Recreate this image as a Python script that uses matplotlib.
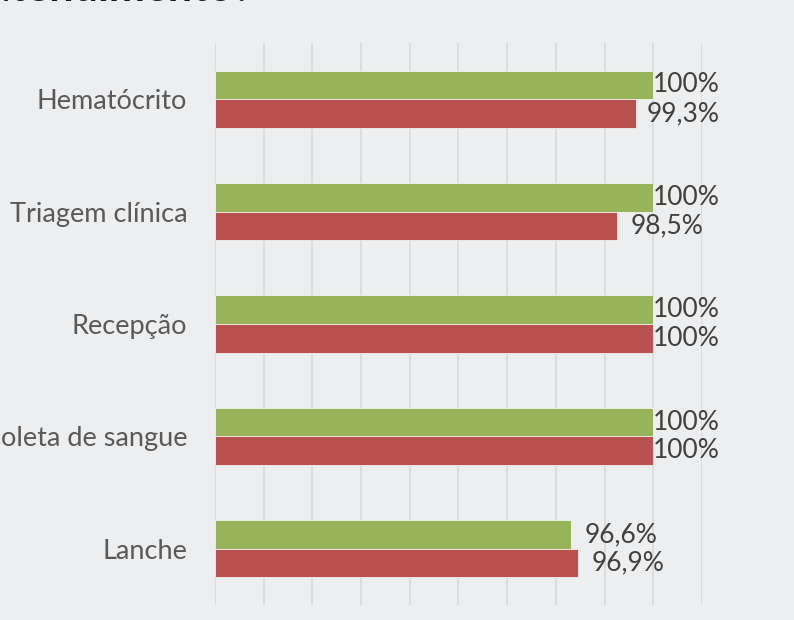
import numpy as np
import matplotlib.pyplot as plt

plt.rcParams['font.family'] = ['Lato', 'DejaVu Sans']

# Dados
categorias = ['Hematócrito', 'Triagem clínica', 'Recepção', 'Coleta de sangue', 'Lanche']
serie_verde = [100, 100, 100, 100, 96.6]
serie_vermelha = [99.3, 98.5, 100, 100, 96.9]
rotulos_verde = ['100%', '100%', '100%', '100%', '96,6%']
rotulos_vermelha = ['99,3%', '98,5%', '100%', '100%', '96,9%']

fundo = '#EDEEF0'
verde = '#98B45A'
vermelho = '#B9524F'

W, H = 794, 620
fig = plt.figure(figsize=(W / 100, H / 100), dpi=100, facecolor=fundo)
ax = fig.add_axes([215 / W, 1 - 605 / H, (702 - 215) / W, (605 - 43) / H])
ax.set_facecolor(fundo)

y = np.arange(len(categorias))
h = 0.255
x0 = 82

b1 = ax.barh(y - h / 2, np.array(serie_verde) - x0, height=h, left=x0,
             color=verde, edgecolor='#F4F6EE', linewidth=0.6, zorder=3)
b2 = ax.barh(y + h / 2, np.array(serie_vermelha) - x0, height=h, left=x0,
             color=vermelho, edgecolor='#F4EEEE', linewidth=0.6, zorder=3)

ax.set_xlim(82, 102)
ax.set_ylim(4.5, -0.5)
ax.set_xticks(np.arange(82, 103, 2))
ax.set_xticklabels([])
ax.set_yticks(y)
ax.set_yticklabels(categorias, fontsize=19.5, color='#595959')
ax.tick_params(axis='both', length=0)
ax.tick_params(axis='y', pad=20)
ax.grid(axis='x', color='#D9D9D9', linewidth=1.2, zorder=0)
for s in ax.spines.values():
    s.set_visible(False)

# rótulos de dados: fora da barra, mas sem passar da borda direita (como no Excel)
textos = []
for barras, rotulos in ((b1, rotulos_verde), (b2, rotulos_vermelha)):
    for bar, txt in zip(barras, rotulos):
        t = ax.annotate(txt, (bar.get_x() + bar.get_width(), bar.get_y() + bar.get_height() / 2),
                        xytext=(10, 0), textcoords='offset points', va='center', ha='left',
                        fontsize=19, color='#404040', annotation_clip=False)
        textos.append(t)

fig.canvas.draw()
r = fig.canvas.get_renderer()
limite = 720
for t in textos:
    bb = t.get_window_extent(r)
    if bb.x1 > limite:
        dx = (bb.x1 - limite) * 72 / fig.dpi
        t.xyann = (t.xyann[0] - dx, 0)

# titulo cortado no topo
fig.text(253 / W, 1 - 1 / H, 'Como você avalia o atendimento?', ha='right', va='baseline',
         fontsize=31, fontweight='bold', color='#1A1A1A')

fig.savefig('out.png', dpi=100, facecolor=fundo)
